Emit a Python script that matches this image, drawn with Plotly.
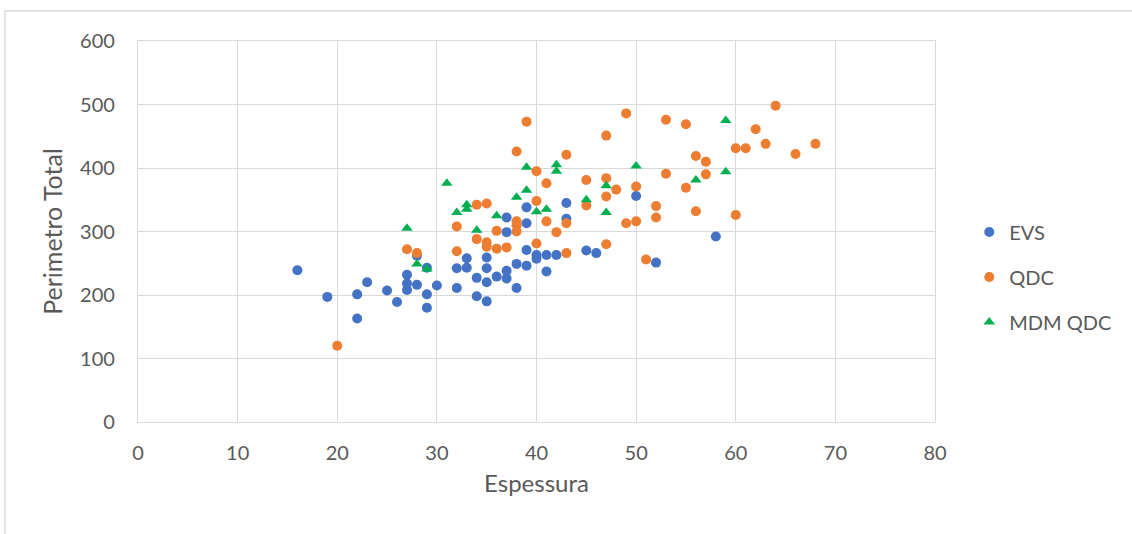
import plotly.graph_objects as go

# Espessura (x) and Perimetro Total (y) for each group
evs_x = [16, 19, 22, 22, 23, 25, 26, 27, 27, 27, 28, 28, 29, 29, 29, 30, 32, 32, 33, 33,
         34, 34, 35, 35, 35, 35, 36, 37, 37, 37, 37, 38, 38, 39, 39, 39, 39, 40, 40, 41,
         41, 42, 43, 43, 45, 46, 50, 52, 58]
evs_y = [239, 197, 201, 163, 220, 207, 189, 232, 218, 208, 216, 262, 243, 201, 180, 215, 242, 211, 258, 243,
         227, 198, 259, 242, 220, 190, 229, 322, 299, 238, 226, 249, 211, 338, 313, 271, 246, 257, 263, 263,
         237, 263, 345, 320, 270, 266, 356, 251, 292]

qdc_x = [20, 27, 28, 32, 32, 34, 34, 35, 35, 35, 36, 36, 37, 38, 38, 38, 38, 39, 40, 40,
         40, 41, 41, 42, 43, 43, 43, 45, 45, 47, 47, 47, 47, 48, 49, 49, 50, 50, 51, 52,
         52, 53, 53, 55, 55, 56, 56, 57, 57, 60, 60, 61, 62, 63, 64, 66, 68]
qdc_y = [120, 272, 266, 308, 269, 342, 288, 344, 283, 276, 301, 273, 275, 426, 316, 310, 300, 473, 395, 348,
         281, 376, 316, 299, 421, 313, 266, 381, 341, 451, 384, 355, 280, 366, 486, 313, 371, 316, 256, 340,
         322, 476, 391, 469, 369, 419, 332, 410, 390, 431, 326, 431, 461, 438, 498, 422, 438]

mdm_x = [27, 28, 29, 31, 32, 33, 33, 34, 36, 38, 39, 39, 40, 41, 42, 42, 45, 47, 47, 50, 56, 59, 59]
mdm_y = [305, 249, 241, 376, 330, 342, 335, 302, 325, 354, 401, 365, 331, 335, 405, 395, 350, 372, 330, 403,
         381, 475, 394]

x_ticks = [0, 10, 20, 30, 40, 50, 60, 70, 80]
y_ticks = [0, 100, 200, 300, 400, 500, 600]

FONT = "Lato"
TEXT = "#595959"
GRID = "#d9d9d9"

fig = go.Figure()
fig.add_trace(go.Scatter(x=evs_x, y=evs_y, mode="markers", name="EVS", legendgroup="a",
                         marker=dict(color="#4472C4", size=10, symbol="circle")))
fig.add_trace(go.Scatter(x=qdc_x, y=qdc_y, mode="markers", name="QDC", legendgroup="b",
                         marker=dict(color="#ED7D31", size=10, symbol="circle")))
fig.add_trace(go.Scatter(x=mdm_x, y=mdm_y, mode="markers", name="MDM QDC", legendgroup="c",
                         marker=dict(color="#00B050", size=10, symbol="triangle-up")))

axis_common = dict(showgrid=True, gridcolor=GRID, gridwidth=1.3, zeroline=False,
                   showline=True, linecolor=GRID, linewidth=1.3, mirror=True,
                   tickfont=dict(family=FONT, size=20, color=TEXT), ticks="")

fig.update_xaxes(range=[0, 80], tickvals=x_ticks, ticklabelstandoff=13,
                 title=dict(text="Espessura", font=dict(family=FONT, size=24, color=TEXT), standoff=12),
                 **axis_common)
fig.update_yaxes(range=[0, 600], tickvals=y_ticks, ticklabelstandoff=18,
                 title=dict(text="Perimetro Total", font=dict(family=FONT, size=25, color=TEXT), standoff=10),
                 **axis_common)

# outer chart frame
fig.add_shape(type="line", xref="paper", yref="paper", x0=-0.1669, x1=-0.1669, y0=-0.4, y1=1.0787,
              line=dict(color=GRID, width=1.5))
fig.add_shape(type="line", xref="paper", yref="paper", x0=-0.1669, x1=1.4, y0=1.0787, y1=1.0787,
              line=dict(color=GRID, width=1.5))

fig.update_layout(
    width=1132, height=534,
    margin=dict(l=138, r=197, t=41, b=112),
    paper_bgcolor="white", plot_bgcolor="white",
    font=dict(family=FONT, color=TEXT),
    legend=dict(x=1.043, y=0.3806, xanchor="left", yanchor="middle",
                font=dict(family=FONT, size=20, color=TEXT), tracegroupgap=16,
                bgcolor="rgba(0,0,0,0)"),
)

fig.write_html("out.html")
